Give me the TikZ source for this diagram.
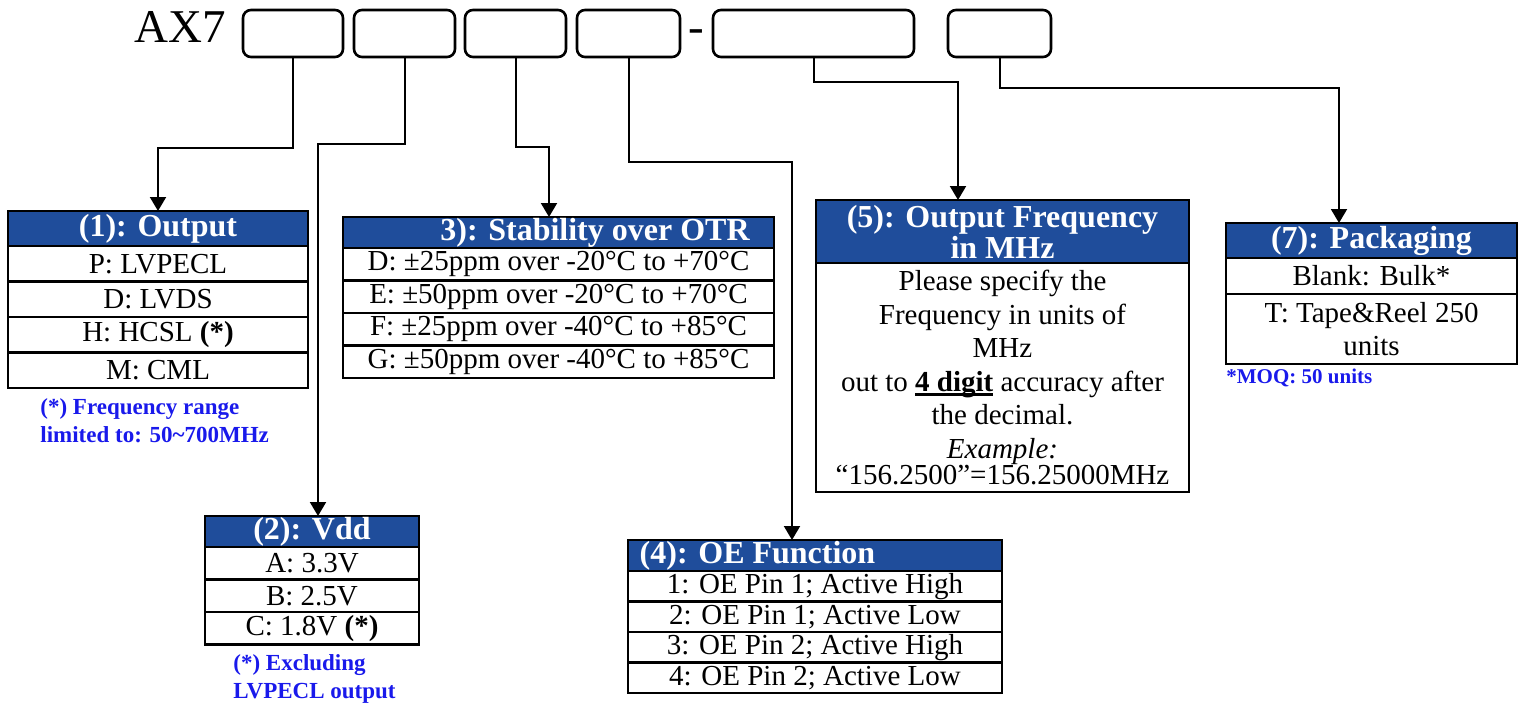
\documentclass[tikz,border=0pt]{standalone}
\usepackage{fontspec}
\setmainfont{Liberation Serif}
\usetikzlibrary{arrows.meta, positioning}
\definecolor{hdrblue}{RGB}{31,77,155}
\definecolor{noteblue}{RGB}{25,25,235}
\newcommand{\ulbox}[1]{\setbox0\hbox{#1}\rlap{\rule[-2.3pt]{\wd0}{1.1pt}}\box0\relax}
\tikzset{
  codebox/.style={draw, line width=1.3pt, rounded corners=4pt, minimum height=23.5pt, inner sep=0pt},
  hdr/.style={draw, line width=1.1pt, fill=hdrblue, text=white, inner sep=0pt, outer sep=0pt,
    align=center, font=\bfseries\fontsize{16}{14}\selectfont},
  cell/.style={draw, line width=1.1pt, fill=white, inner sep=0pt, outer sep=0pt,
    align=center, font=\fontsize{14.5}{16.75}\selectfont},
  note/.style={text=noteblue, inner sep=0pt, anchor=west, align=left,
    font=\bfseries\fontsize{11.5}{14}\selectfont},
  link/.style={line width=1pt, -{Triangle[length=7pt,width=8pt]}}
}

\begin{document}
\begin{tikzpicture}[x=0.5pt, y=-0.5pt]
  \useasboundingbox (0,0) rectangle (1525,706);
  % 型番の構成
  \node[anchor=base, inner sep=0pt, font=\fontsize{23.5}{25}\selectfont] (ax) at (180.5,43) {AX7};
  \node[codebox, minimum width=50pt] (c1) at (293,33.5) {};
  \node[codebox, minimum width=50.5pt] (c2) at (404.5,33.5) {};
  \node[codebox, minimum width=50.5pt] (c3) at (515.5,33.5) {};
  \node[codebox, minimum width=51.5pt] (c4) at (628.5,33.5) {};
  \node[anchor=base, inner sep=0pt, font=\fontsize{23.5}{25}\selectfont] (dash) at (696,43) {-};
  \node[codebox, minimum width=100.5pt] (c5) at (813.5,33.5) {};
  \node[codebox, minimum width=51.5pt] (c6) at (999.5,33.5) {};

  % (1) Output
  \node[hdr, minimum width=150pt, minimum height=17.5pt] (out) at (158,228.5) {(1): Output};
  \node[cell, minimum width=150pt, minimum height=17.75pt, below=0pt of out] (outP) {P: LVPECL};
  \node[cell, minimum width=150pt, minimum height=17.75pt, below=0pt of outP] (outD) {D: LVDS};
  \node[cell, minimum width=150pt, minimum height=17.75pt, below=0pt of outD] (outH) {H: HCSL \textbf{(*)}};
  \node[cell, minimum width=150pt, minimum height=17.75pt, below=0pt of outH] (outM) {M: CML};
  \node[note] (outnote) at (40,421) {(*) Frequency range\\limited to: 50\textasciitilde700MHz};

  % (2) Vdd
  \node[hdr, minimum width=107pt, minimum height=15.5pt] (vdd) at (312,531.5) {(2): Vdd};
  \node[cell, minimum width=107pt, minimum height=16.25pt, below=0pt of vdd] (vddA) {A: 3.3V};
  \node[cell, minimum width=107pt, minimum height=16.25pt, below=0pt of vddA] (vddB) {B: 2.5V};
  \node[cell, minimum width=107pt, minimum height=16.25pt, below=0pt of vddB] (vddC) {C: 1.8V \textbf{(*)}};
  \node[note] (vddnote) at (233,679) {(*) Excluding\\LVPECL output};

  % (3) Stability
  \node[hdr, minimum width=215.5pt, minimum height=15.5pt] (stab) at (558.5,232.5) {\hspace*{36.5pt}3): Stability over OTR};
  \node[cell, minimum width=215.5pt, minimum height=16.25pt, below=0pt of stab] (stabD) {D: ±25ppm over -20°C to +70°C};
  \node[cell, minimum width=215.5pt, minimum height=16.25pt, below=0pt of stabD] (stabE) {E: ±50ppm over -20°C to +70°C};
  \node[cell, minimum width=215.5pt, minimum height=16.25pt, below=0pt of stabE] (stabF) {F: ±25ppm over -40°C to +85°C};
  \node[cell, minimum width=215.5pt, minimum height=16.25pt, below=0pt of stabF] (stabG) {G: ±50ppm over -40°C to +85°C};

  % (4) OE Function
  \node[hdr, minimum width=187pt, minimum height=15.5pt] (oe) at (815,555.5) {(4): OE Function\hspace*{57.5pt}};
  \node[cell, minimum width=187pt, minimum height=15.25pt, below=0pt of oe] (oe1) {1: OE Pin 1; Active High};
  \node[cell, minimum width=187pt, minimum height=15.25pt, below=0pt of oe1] (oe2) {2: OE Pin 1; Active Low};
  \node[cell, minimum width=187pt, minimum height=15.25pt, below=0pt of oe2] (oe3) {3: OE Pin 2; Active High};
  \node[cell, minimum width=187pt, minimum height=15.25pt, below=0pt of oe3] (oe4) {4: OE Pin 2; Active Low};

  % (5) Output Frequency
  \node[hdr, minimum width=186.5pt, minimum height=31.5pt] (freq) at (1002.5,231.5) {(5): Output Frequency\\in MHz};
  \node[cell, minimum width=186.5pt, minimum height=114.5pt, below=0pt of freq] (freqtxt)
    {Please specify the\\Frequency in units of\\MHz\\out to \ulbox{\textbf{4 digit}} accuracy after\\the decimal.\\
     \textit{Example:}\\[-3.5pt]“156.2500”=156.25000MHz};

  % (7) Packaging
  \node[hdr, minimum width=145.5pt, minimum height=17.5pt] (pack) at (1371.5,240.5) {(7): Packaging};
  \node[cell, minimum width=145.5pt, minimum height=18pt, below=0pt of pack] (packB) {Blank: Bulk*};
  \node[cell, minimum width=145.5pt, minimum height=35pt, below=0pt of packB] (packT) {T: Tape\&Reel 250\\units};
  \node[note, font=\bfseries\fontsize{10.5}{12}\selectfont] (packnote) at (1226,378) {*MOQ: 50 units};

  \draw[link] (c1.south) -- ++(0,89.75) -| (out.north);
  \draw[link] (c2.south) -- ++(0,85.75) -| ([xshift=3pt]vdd.north);
  \draw[link] (c3.south) -- ++(0,88.75) -| ([xshift=-4.75pt]stab.north);
  \draw[link] (c4.south) -- ++(0,103.75) -| ([xshift=-11.5pt]oe.north);
  \draw[link] (c5.south) -- ++(0,23.75) -| ([xshift=-22.25pt]freq.north);
  \draw[link] (c6.south) -- ++(0,29.75) -| ([xshift=-16.25pt]pack.north);
\end{tikzpicture}
\end{document}
